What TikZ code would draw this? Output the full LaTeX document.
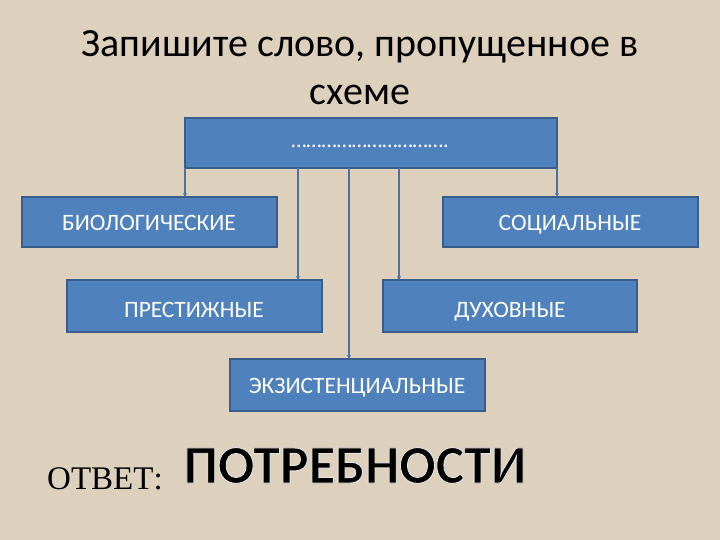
\documentclass[tikz,border=0pt]{standalone}
\usepackage{fontspec}
\setmainfont{Carlito}
\newfontfamily\timesf{Liberation Serif}
\usetikzlibrary{arrows.meta}
\definecolor{bgc}{RGB}{221,209,190}
\definecolor{boxblue}{RGB}{79,129,189}
\definecolor{boxedge}{RGB}{56,93,138}
\definecolor{linec}{RGB}{79,115,160}
\tikzset{
  x=1pt,y=-1pt,
  blue box/.style={draw=boxedge,line width=1.2pt,fill=boxblue},
  box text/.style={text=white,font=\fontsize{23.5}{26}\selectfont,anchor=base},
  conn/.style={draw=linec,line width=1.3pt,-{Stealth[length=4pt,width=4pt]}},
}
\newcommand{\outlinedtext}[1]{\special{pdf:literal direct 2 Tr 0.9 w 0.9 0.9 0.9 RG}#1\special{pdf:literal direct 0 Tr 1 w}}
\begin{document}
\begin{tikzpicture}
\fill[bgc] (0,0) rectangle (720,540);
\useasboundingbox (0,0) rectangle (720,540);
\node[font=\fontsize{40}{48}\selectfont,align=center] (title) at (360,68) {Запишите слово, пропущенное в\\схеме};
\path[blue box] (185,118) rectangle (557,168);
\node[text=white,font=\fontsize{22}{24}\selectfont,anchor=base] (top) at (370,148) {………………………….};
\path[blue box] (22,197) rectangle (277,247);
\node[box text] (bio) at (149,230) {БИОЛОГИЧЕСКИЕ};
\path[blue box] (443,197) rectangle (698,247);
\node[box text] (soc) at (570,230) {СОЦИАЛЬНЫЕ};
\path[blue box] (67,280) rectangle (322,332);
\node[box text] (pres) at (194,317) {ПРЕСТИЖНЫЕ};
\path[blue box] (383,280) rectangle (637,332);
\node[box text] (duh) at (510,317) {ДУХОВНЫЕ};
\path[blue box] (230,359) rectangle (485,411);
\node[box text] (exi) at (357,393) {ЭКЗИСТЕНЦИАЛЬНЫЕ};
\coordinate (a1) at (185,168); \coordinate (b1) at (185,197);
\coordinate (a2) at (298,168); \coordinate (b2) at (298,280);
\coordinate (a3) at (349,168); \coordinate (b3) at (349,359);
\coordinate (a4) at (399,168); \coordinate (b4) at (399,280);
\coordinate (a5) at (557,168); \coordinate (b5) at (557,197);
\foreach \i in {1,...,5} \draw[conn] (a\i) -- (b\i);
\node[font=\timesf\fontsize{33}{36}\selectfont,anchor=base west,inner sep=0pt] (otv) at (47,489) {ОТВЕТ:};
\node[font=\bfseries\fontsize{54}{58}\selectfont,text=black,anchor=base,inner sep=0pt] (ans) at (355,483) {\outlinedtext{ПОТРЕБНОСТИ}};
\end{tikzpicture}
\end{document}
